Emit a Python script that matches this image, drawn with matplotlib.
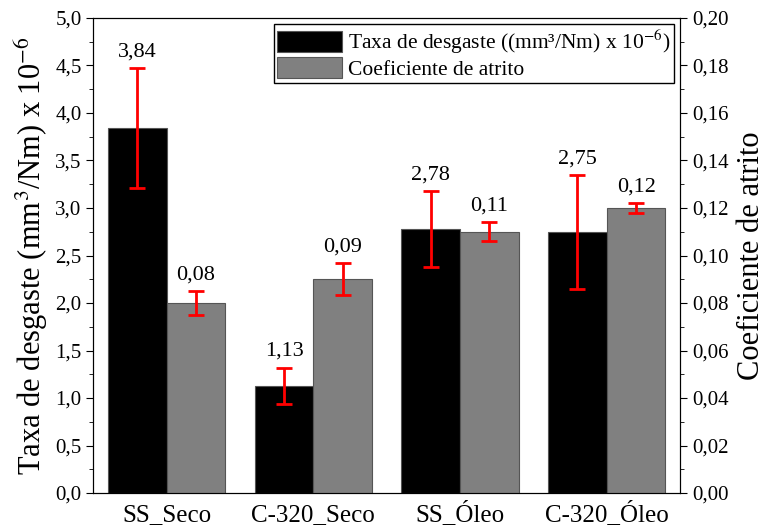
import numpy as np
import matplotlib.pyplot as plt
from matplotlib.ticker import FuncFormatter, MultipleLocator

plt.rcParams['font.family'] = ['Liberation Serif', 'DejaVu Serif']
plt.rcParams['mathtext.fontset'] = 'stix'

amostras = ["SS_Seco", "C-320_Seco", "SS_Óleo", "C-320_Óleo"]
desgaste = [3.84, 1.13, 2.78, 2.75]
desgaste_err = [0.63, 0.19, 0.40, 0.60]
atrito = [0.08, 0.09, 0.11, 0.12]
atrito_err = [0.005, 0.0068, 0.004, 0.002]

x = np.arange(len(amostras))
w = 0.4

fig, ax = plt.subplots(figsize=(7.65, 5.29), dpi=100)
fig.subplots_adjust(left=0.122, right=0.889, top=0.966, bottom=0.068)
ax2 = ax.twinx()

b1 = ax.bar(x - w/2, desgaste, w, color='black', edgecolor='#555555', linewidth=0.8,
            label='Taxa de desgaste ((mm³/Nm) x 10$^{-6}$)')
ax.errorbar(x - w/2, desgaste, yerr=desgaste_err, fmt='none', ecolor='red',
            elinewidth=2, capsize=6, capthick=2)
b2 = ax2.bar(x + w/2, atrito, w, color='#808080', edgecolor='#555555', linewidth=0.8,
             label='Coeficiente de atrito')
ax2.errorbar(x + w/2, atrito, yerr=atrito_err, fmt='none', ecolor='red',
             elinewidth=2, capsize=6, capthick=2)

for xi, v, e in zip(x - w/2, desgaste, desgaste_err):
    ax.text(xi, v + e + 0.07, f"{v:.2f}".replace('.', ','), ha='center', va='bottom', fontsize=16)
for xi, v, e in zip(x + w/2, atrito, atrito_err):
    ax2.text(xi, v + e + 0.0028, f"{v:.2f}".replace('.', ','), ha='center', va='bottom', fontsize=16)

ax.set_xlim(-0.5, 3.5)
ax.set_ylim(0, 5.0)
ax2.set_ylim(0, 0.20)
ax.set_xticks(x)
ax.set_xticklabels(amostras, fontsize=18)
for lbl in ax.get_xticklabels():
    lbl.set_verticalalignment('baseline')
ax.yaxis.set_major_locator(MultipleLocator(0.5))
ax.yaxis.set_minor_locator(MultipleLocator(0.25))
ax2.yaxis.set_major_locator(MultipleLocator(0.02))
ax2.yaxis.set_minor_locator(MultipleLocator(0.01))
ax.yaxis.set_major_formatter(FuncFormatter(lambda v, p: f"{v:.1f}".replace('.', ',')))
ax2.yaxis.set_major_formatter(FuncFormatter(lambda v, p: f"{v:.2f}".replace('.', ',')))
ax.tick_params(axis='y', labelsize=15, direction='out', length=5)
ax.tick_params(axis='y', which='minor', length=3)
ax2.tick_params(axis='y', labelsize=15, direction='out', length=5)
ax2.tick_params(axis='y', which='minor', length=3)
ax.tick_params(axis='x', length=0, pad=20)

ax.set_ylabel('Taxa de desgaste (mm$^3$/Nm) x 10$^{-6}$', fontsize=22, labelpad=4)
ax2.set_ylabel('Coeficiente de atrito', fontsize=22, labelpad=6)

ax.legend(handles=[b1, b2], loc='upper right', fontsize=15.5, frameon=True, fancybox=False,
          edgecolor='black', framealpha=1, handlelength=3.0, handleheight=1.1,
          borderaxespad=0.3, borderpad=0.15, labelspacing=0.05, handletextpad=0.3)

plt.savefig('out.png', dpi=100)
